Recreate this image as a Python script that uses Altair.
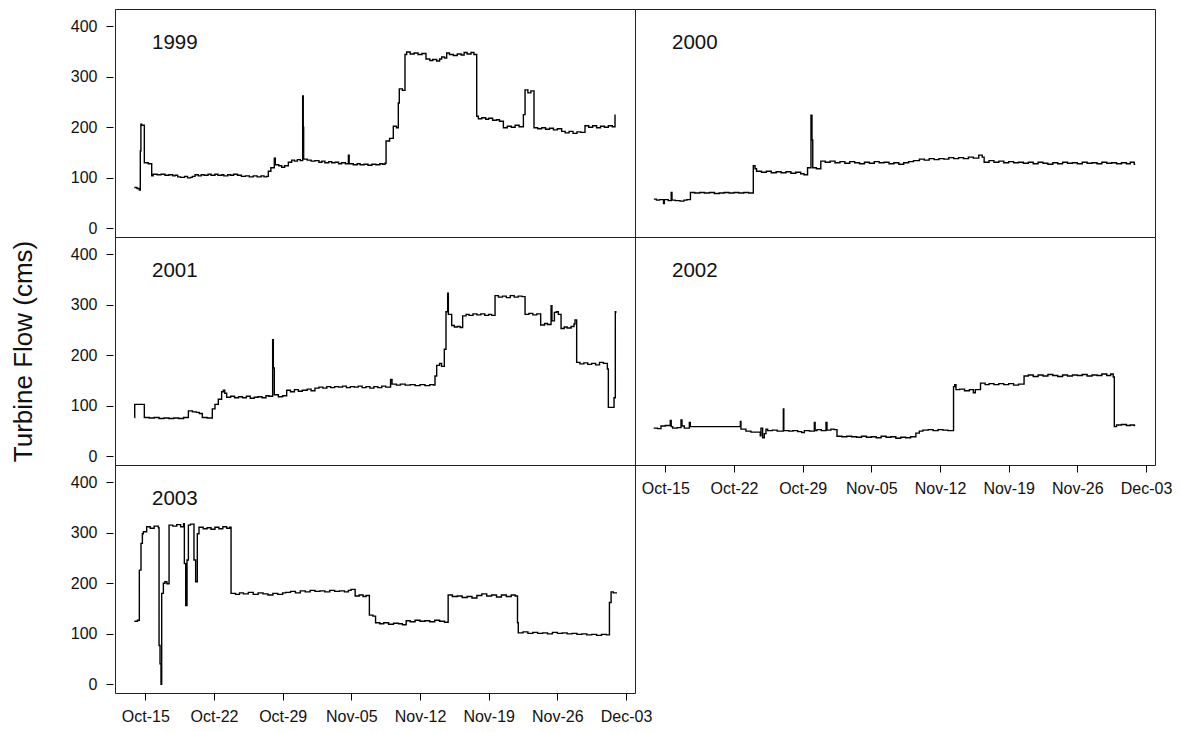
import altair as alt
import pandas as pd

FONT = "Liberation Sans"

# (days after Oct-15, turbine flow in cms), one list per year
flow_1999 = [(-1.12, 81), (-0.85, 79), (-0.61, 76), (-0.51, 153), (-0.45, 206), (-0.37, 204), (-0.10, 130),
             (0.30, 128), (0.65, 104), (0.8, 107), (1.2, 106), (1.6, 107), (2.0, 105), (2.4, 106), (2.8, 104),
             (3.03, 105), (3.3, 102), (3.6, 101), (4.0, 103), (4.3, 100), (4.6, 101), (4.8, 103), (5.07, 106),
             (5.4, 104), (5.7, 106), (6.0, 105), (6.4, 107), (6.7, 105), (7.1, 107), (7.4, 105), (7.8, 106),
             (8.0, 104), (8.4, 106), (8.7, 105), (9.0, 107), (9.4, 105), (9.8, 103), (10.2, 104), (10.6, 102),
             (11.0, 104), (11.4, 102), (11.8, 104), (12.1, 102), (12.37, 103), (12.54, 113), (12.8, 120),
             (13.15, 139), (13.25, 126), (13.6, 124), (13.9, 121), (14.2, 124), (14.58, 131), (14.92, 135),
             (15.2, 133), (15.5, 136), (15.8, 134), (16.04, 262), (16.1, 200), (16.14, 137), (16.5, 135),
             (16.9, 133), (17.29, 134), (17.7, 131), (18.0, 133), (18.3, 130), (18.7, 132), (19.0, 130),
             (19.33, 131), (19.7, 128), (20.0, 130), (20.4, 128), (20.7, 145), (20.78, 128), (21.2, 126),
             (21.6, 128), (21.9, 126), (22.3, 127), (22.7, 125), (23.1, 127), (23.5, 126), (23.9, 128),
             (24.2, 127), (24.43, 129), (24.54, 173), (24.9, 178), (25.28, 202), (25.6, 199), (25.79, 248),
             (25.89, 276), (26.2, 273), (26.47, 344), (26.64, 349), (27.0, 345), (27.4, 347), (27.8, 344),
             (28.2, 346), (28.61, 335), (29.0, 332), (29.3, 334), (29.7, 331), (30.0, 335), (30.21, 339),
             (30.5, 337), (30.72, 347), (31.0, 344), (31.4, 342), (31.8, 345), (32.2, 343), (32.5, 348),
             (32.8, 345), (33.2, 348), (33.5, 344), (33.78, 222), (33.95, 217), (34.3, 219), (34.7, 216),
             (35.0, 218), (35.4, 214), (35.8, 215), (36.1, 212), (36.5, 199), (36.9, 202), (37.3, 200),
             (37.7, 204), (38.1, 201), (38.54, 225), (38.71, 274), (39.0, 268), (39.3, 272), (39.62, 199),
             (40.0, 197), (40.4, 199), (40.8, 196), (41.2, 198), (41.6, 195), (42.0, 197), (42.44, 192),
             (42.8, 189), (43.2, 192), (43.6, 188), (44.0, 191), (44.4, 190), (44.82, 203), (45.2, 200),
             (45.6, 203), (46.0, 199), (46.4, 202), (46.8, 200), (47.2, 203), (47.6, 201), (47.88, 224),
             (47.95, 224)]

flow_2000 = [(-1.17, 58), (-0.9, 56), (-0.6, 57), (-0.18, 49), (-0.1, 57), (0.3, 55), (0.6, 71), (0.68, 56),
             (1.0, 55), (1.5, 54), (1.9, 56), (2.2, 57), (2.56, 71), (3.0, 70), (3.5, 71), (4.0, 70), (4.5, 71),
             (5.0, 69), (5.5, 70), (6.0, 71), (6.5, 70), (7.0, 71), (7.5, 70), (8.0, 71), (8.5, 70), (8.97, 124),
             (9.15, 118), (9.3, 113), (9.8, 111), (10.3, 113), (10.8, 110), (11.3, 112), (11.8, 110),
             (12.3, 112), (12.8, 109), (13.3, 111), (13.8, 108), (14.14, 106), (14.5, 120), (14.85, 224),
             (14.95, 175), (15.03, 120), (15.4, 118), (15.85, 133), (16.3, 131), (16.8, 133), (17.3, 130),
             (17.8, 132), (18.3, 129), (18.8, 132), (19.3, 130), (19.8, 128), (20.3, 131), (20.8, 129),
             (21.3, 132), (21.8, 130), (22.3, 131), (22.8, 128), (23.3, 130), (23.8, 127), (24.3, 130),
             (24.8, 132), (25.3, 134), (25.9, 137), (26.4, 135), (26.9, 138), (27.4, 136), (27.9, 138),
             (28.4, 137), (28.9, 140), (29.4, 138), (29.9, 140), (30.4, 138), (30.9, 141), (31.4, 139),
             (31.95, 145), (32.3, 141), (32.5, 131), (33.0, 134), (33.5, 131), (34.0, 133), (34.5, 130),
             (35.0, 132), (35.5, 130), (36.0, 131), (36.5, 129), (37.0, 131), (37.5, 128), (38.0, 131),
             (38.5, 129), (39.0, 127), (39.5, 130), (40.0, 128), (40.5, 131), (41.0, 129), (41.5, 130),
             (42.0, 128), (42.5, 131), (43.0, 129), (43.5, 130), (44.0, 128), (44.5, 131), (45.0, 129),
             (45.5, 130), (46.0, 128), (46.5, 130), (47.0, 128), (47.4, 131), (47.8, 127), (47.9, 127)]

flow_2001 = [(-1.12, 77), (-1.08, 103), (-0.17, 103), (-0.10, 77), (0.4, 76), (0.9, 77), (1.4, 75), (1.9, 76),
             (2.4, 75), (2.9, 76), (3.4, 75), (3.9, 77), (4.39, 90), (4.8, 88), (5.2, 87), (5.5, 85), (5.81, 77),
             (6.3, 76), (6.83, 94), (7.1, 103), (7.44, 113), (7.78, 128), (7.95, 131), (8.1, 125), (8.29, 117),
             (8.7, 119), (9.1, 116), (9.5, 118), (9.9, 116), (10.3, 119), (10.7, 115), (11.1, 117), (11.5, 118),
             (11.9, 116), (12.3, 120), (12.6, 119), (12.98, 231), (13.05, 175), (13.15, 122), (13.56, 118),
             (14.0, 120), (14.41, 131), (14.8, 128), (15.2, 132), (15.6, 129), (16.0, 131), (16.5, 133),
             (16.9, 130), (17.29, 135), (17.7, 137), (18.1, 135), (18.5, 138), (18.9, 136), (19.3, 138),
             (19.7, 137), (20.1, 139), (20.5, 136), (20.9, 138), (21.3, 137), (21.7, 139), (22.1, 136),
             (22.5, 138), (22.9, 135), (23.3, 138), (23.7, 136), (24.1, 139), (24.5, 137), (25.0, 152),
             (25.15, 143), (25.6, 141), (26.0, 143), (26.5, 141), (27.0, 142), (27.5, 140), (28.0, 142),
             (28.5, 140), (29.0, 142), (29.36, 141), (29.53, 159), (29.7, 180), (30.0, 184), (30.2, 178),
             (30.48, 212), (30.65, 286), (30.82, 323), (30.89, 281), (31.23, 259), (31.5, 256), (31.8, 257),
             (32.1, 255), (32.35, 278), (32.7, 281), (33.0, 279), (33.4, 282), (33.8, 280), (34.2, 282),
             (34.6, 279), (35.0, 281), (35.3, 279), (35.65, 318), (36.0, 315), (36.4, 317), (36.8, 314),
             (37.2, 318), (37.6, 315), (38.0, 317), (38.4, 316), (38.71, 281), (39.1, 283), (39.5, 280),
             (39.9, 282), (40.3, 260), (40.7, 263), (41.0, 261), (41.36, 298), (41.45, 268), (41.7, 285),
             (41.9, 286), (42.1, 281), (42.38, 253), (42.7, 256), (43.0, 254), (43.4, 257), (43.7, 262),
             (43.8, 270), (43.97, 186), (44.3, 183), (44.7, 185), (45.1, 182), (45.5, 184), (45.9, 181),
             (46.3, 186), (46.7, 184), (47.1, 173), (47.2, 97), (47.78, 116), (47.91, 286), (47.95, 283)]

flow_2002 = [(-1.19, 56), (-0.8, 55), (-0.44, 60), (0.0, 61), (0.51, 71), (0.6, 59), (0.75, 56), (1.2, 57),
             (1.6, 72), (1.7, 60), (1.94, 56), (2.45, 67), (2.55, 59), (3.5, 59), (4.5, 59), (5.5, 59),
             (6.5, 59), (7.5, 59), (7.65, 69), (7.71, 54), (8.22, 50), (8.73, 48), (9.68, 41), (9.75, 56),
             (9.92, 37), (10.09, 45), (10.26, 54), (10.43, 51), (10.9, 52), (11.4, 50), (12.03, 94), (12.08, 51),
             (12.6, 50), (13.0, 51), (13.5, 49), (13.9, 47), (14.17, 51), (14.7, 50), (15.19, 67), (15.27, 51),
             (15.46, 53), (15.9, 51), (16.38, 67), (16.48, 52), (16.88, 54), (17.2, 53), (17.5, 40), (18.0, 39),
             (18.5, 40), (19.0, 39), (19.5, 38), (20.0, 40), (20.5, 38), (21.0, 39), (21.5, 37), (22.0, 40),
             (22.5, 38), (23.0, 39), (23.5, 36), (24.0, 38), (24.5, 37), (25.0, 39), (25.54, 46), (25.89, 50),
             (26.25, 52), (26.8, 53), (27.3, 51), (27.8, 53), (28.3, 52), (28.8, 51), (29.38, 138), (29.5, 142),
             (29.63, 132), (30.0, 133), (30.5, 130), (31.0, 132), (31.4, 126), (31.6, 132), (32.13, 145),
             (32.6, 142), (33.0, 144), (33.5, 142), (34.0, 144), (34.5, 142), (35.0, 144), (35.5, 141),
             (36.0, 143), (36.57, 159), (37.0, 161), (37.5, 158), (38.0, 161), (38.5, 159), (39.0, 162),
             (39.5, 160), (40.0, 158), (40.5, 161), (41.0, 159), (41.5, 161), (42.0, 160), (42.5, 162),
             (43.0, 159), (43.5, 161), (44.0, 160), (44.5, 163), (45.0, 160), (45.4, 163), (45.66, 157),
             (45.77, 59), (46.0, 62), (46.5, 63), (47.0, 61), (47.4, 62), (47.8, 61), (47.9, 61)]

flow_2003 = [(-1.12, 125), (-0.8, 127), (-0.61, 226), (-0.44, 279), (-0.30, 298), (-0.20, 302), (0.14, 312),
             (0.5, 309), (0.9, 313), (1.33, 310), (1.40, 77), (1.50, 41), (1.60, 0), (1.67, 180), (1.84, 200),
             (2.0, 203), (2.2, 199), (2.42, 315), (2.8, 313), (3.2, 316), (3.6, 312), (3.9, 318), (3.98, 239),
             (4.12, 156), (4.25, 246), (4.39, 315), (4.6, 317), (4.96, 246), (5.13, 203), (5.30, 298),
             (5.47, 311), (5.9, 308), (6.3, 310), (6.7, 307), (7.1, 311), (7.5, 308), (7.9, 312), (8.3, 309),
             (8.6, 311), (8.74, 180), (9.2, 178), (9.6, 181), (10.0, 179), (10.5, 182), (11.0, 178),
             (11.5, 181), (12.0, 179), (12.5, 177), (13.0, 180), (13.5, 178), (14.0, 181), (14.31, 182),
             (14.8, 184), (15.3, 181), (15.8, 185), (16.3, 183), (16.8, 186), (17.3, 184), (17.8, 185),
             (18.3, 183), (18.8, 186), (19.3, 184), (19.8, 185), (20.3, 183), (20.7, 186), (20.97, 188),
             (21.39, 175), (21.8, 177), (22.2, 174), (22.5, 176), (22.84, 137), (23.2, 135), (23.47, 122),
             (23.9, 120), (24.3, 122), (24.8, 119), (25.3, 121), (25.8, 120), (26.2, 118), (26.59, 126),
             (27.0, 124), (27.5, 127), (28.0, 125), (28.5, 126), (29.0, 124), (29.5, 127), (30.0, 125),
             (30.5, 123), (30.87, 177), (31.3, 174), (31.8, 175), (32.3, 172), (32.8, 174), (33.3, 171),
             (33.8, 176), (34.3, 179), (34.8, 175), (35.3, 177), (35.8, 173), (36.3, 177), (36.8, 174),
             (37.3, 177), (37.7, 175), (37.94, 122), (38.02, 102), (38.5, 104), (39.0, 101), (39.5, 103),
             (40.0, 101), (40.5, 102), (41.0, 100), (41.5, 103), (42.0, 101), (42.5, 102), (43.0, 100),
             (43.5, 101), (44.0, 99), (44.5, 100), (45.0, 98), (45.5, 99), (46.0, 97), (46.5, 99), (47.0, 98),
             (47.31, 162), (47.48, 183), (47.7, 181), (48.01, 180)]

tick_dates = [(10, 15), (10, 22), (10, 29), (11, 5), (11, 12), (11, 19), (11, 26), (12, 3)]
y_ticks = [0, 100, 200, 300, 400]

BASE = pd.Timestamp("2000-10-15")


def frame(series):
    days = [d for d, _ in series]
    flows = [v for _, v in series]
    return pd.DataFrame({"date": BASE + pd.to_timedelta(days, unit="D"), "flow": flows})


X0 = alt.DateTime(year=2000, month=10, date=11, hours=21, minutes=50)
X1 = alt.DateTime(year=2000, month=12, date=3, hours=22, minutes=0)

yaxis = dict(values=y_ticks, domain=False, grid=False, ticks=True, tickSize=7, tickColor="black",
             tickWidth=1, offset=2, labelPadding=9, labelFontSize=16, labelFont=FONT,
             labelColor="#111")

xaxis = alt.Axis(values=[alt.DateTime(year=2000, month=m, date=d) for m, d in tick_dates],
                 format="%b-%d", domain=False, grid=False, tickSize=7, tickColor="black",
                 tickWidth=1, labelPadding=8, labelFontSize=16, labelFont=FONT, labelColor="#111",
                 labelFlush=False, labelOverlap=False)


def panel(year, series, show_y, show_x, ytitle=None):
    df = frame(series)
    if show_y:
        if ytitle:
            yax = alt.Axis(**yaxis, title=ytitle, titleFontSize=26, titleFont=FONT,
                           titleFontWeight="normal", titleColor="#111", titlePadding=34)
        else:
            yax = alt.Axis(**yaxis, title=None)
    else:
        yax = None
    x = alt.X("date:T", scale=alt.Scale(domain=[X0, X1]), axis=xaxis if show_x else None, title=None)
    y = alt.Y("flow:Q", scale=alt.Scale(domain=[-17, 434], nice=False, zero=False), axis=yax,
              title=ytitle if ytitle else None)
    line = alt.Chart(df).mark_line(color="black", strokeWidth=1.4, interpolate="step-after").encode(x=x, y=y)
    lab = alt.Chart(pd.DataFrame({"t": [year]})).mark_text(
        align="left", baseline="alphabetic", fontSize=20.5, font=FONT, color="#111"
    ).encode(x=alt.value(37), y=alt.value(40), text="t:N")
    return alt.layer(line, lab).properties(width=520, height=228)


p1999 = panel("1999", flow_1999, True, False)
p2000 = panel("2000", flow_2000, False, False)
p2001 = panel("2001", flow_2001, True, False, ytitle="Turbine Flow (cms)")
p2002 = panel("2002", flow_2002, False, True)
p2003 = panel("2003", flow_2003, True, True)

chart = alt.concat(p1999, p2000, p2001, p2002, p2003, columns=2, spacing=0, bounds="flush").configure_view(
    stroke="#222", strokeWidth=1
).properties(
    padding={"left": 9, "top": 8, "right": 0, "bottom": 0}, background="white"
)

chart.save("out.html", embed_options={"renderer": "svg", "actions": False})
